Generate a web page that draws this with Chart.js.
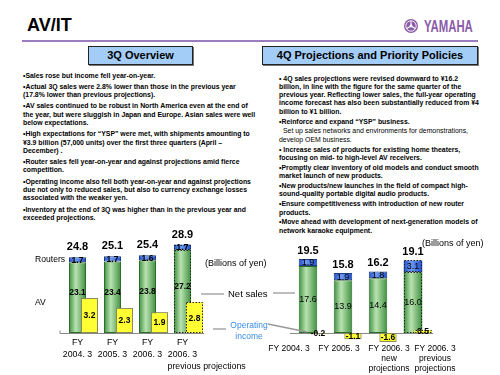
<!DOCTYPE html>
<html>
<head>
<meta charset="utf-8">
<script src="https://cdn.jsdelivr.net/npm/chart.js@4.4.1/dist/chart.umd.min.js"></script>
<style>
  html, body { margin: 0; padding: 0; background: #fff; }
  body { width: 500px; height: 375px; position: relative; overflow: hidden;
         font-family: Arial, "Liberation Sans", sans-serif; color: #000; }
  .abs { position: absolute; }
  #title { left: 27px; top: 16px; font-size: 18px; line-height: 18px; font-weight: bold; }
  #logo { left: 424px; top: 18.5px; font-size: 16px; line-height: 16px; font-weight: bold;
          color: #8a5ca8; transform: scaleX(0.71); transform-origin: left center; }
  #rule { left: 22px; top: 40px; width: 456px; height: 2px; background: #9a7cbf; }
  .box { top: 46px; height: 19px; box-sizing: border-box; border: 1px solid #222;
         background: #a3cdf7; box-shadow: 1px 1px 0 #777; text-align: center;
         font-size: 11px; line-height: 17px; font-weight: bold; }
  .txt { font-size: 6.9px; line-height: 8.3px; font-weight: bold; white-space: nowrap; }
  .txt p { margin: 0 0 3px 0; }
  #right-text p { margin-bottom: 1.6px; }
  .light { font-weight: normal; padding-left: 4px; }
  .note { font-size: 9px; line-height: 10px; white-space: nowrap; }
  .blue { color: #3a8ee6; font-size: 8.5px; line-height: 10.5px; text-align: center; }
  .chart { width: 250px; height: 150px; top: 225px; }
</style>
</head>
<body>
<div id="title" class="abs">AV/IT</div>
<svg class="abs" style="left:403px;top:18px" width="16" height="16" viewBox="0 0 16 16">
  <circle cx="8" cy="8" r="7" fill="#8a5ca8"/>
  <circle cx="8" cy="8" r="5.2" fill="none" stroke="#fff" stroke-width="0.9"/>
  <g stroke="#fff" stroke-width="1.1">
    <line x1="8" y1="8" x2="8" y2="3.2"/>
    <line x1="8" y1="8" x2="12.2" y2="10.4"/>
    <line x1="8" y1="8" x2="3.8" y2="10.4"/>
  </g>
  <circle cx="8" cy="8" r="1.4" fill="#fff"/>
</svg>
<div id="logo" class="abs">YAMAHA</div>
<div id="rule" class="abs"></div>

<div class="abs box" style="left:88px;width:105px">3Q Overview</div>
<div class="abs box" style="left:262px;width:216px">4Q Projections and Priority Policies</div>

<div id="left-text" class="abs txt" style="left:23px;top:71.5px">
  <p>•Sales rose but income fell year-on-year.</p>
  <p>•Actual 3Q sales were 2.8% lower than those in the previous year<br>(17.8% lower than previous projections).</p>
  <p>•AV sales continued to be robust in North America even at the end of<br>the year, but were sluggish in Japan and Europe. Asian sales were well<br>below expectations.</p>
  <p>•High expectations for “YSP” were met, with shipments amounting to<br>¥3.9 billion (57,000 units) over the first three quarters (April –<br>December) .</p>
  <p>•Router sales fell year-on-year and against projections amid fierce<br>competition.</p>
  <p>•Operating income also fell both year-on-year and against projections<br>due not only to reduced sales, but also to currency exchange losses<br>associated with the weaker yen.</p>
  <p>•Inventory at the end of 3Q was higher than in the previous year and<br>exceeded projections.</p>
</div>

<div id="right-text" class="abs txt" style="left:279px;top:74.5px">
  <p>• 4Q sales projections were revised downward to ¥16.2<br>billion, in line with the figure for the same quarter of the<br>previous year. Reflecting lower sales, the full-year operating<br>income forecast has also been substantially reduced from ¥4<br>billion to ¥1 billion.</p>
  <p>•Reinforce and expand “YSP” business.</p>
  <p><span class="light">Set up sales networks and environments for demonstrations,</span><br><span style="font-weight:normal">develop OEM business.</span></p>
  <p>•  Increase sales of products for existing home theaters,<br>focusing on mid- to high-level AV receivers.</p>
  <p>•Promptly clear inventory of old models and conduct smooth<br>market launch of new products.</p>
  <p>•New products/new launches in the field of compact high-<br>sound-quality portable digital audio products.</p>
  <p>•Ensure competitiveness with introduction of new router<br>products.</p>
  <p>•Move ahead with development of next-generation models of<br>network karaoke equipment.</p>
</div>

<div class="abs chart" style="left:0"><canvas id="leftChart" width="250" height="150"></canvas></div>
<div class="abs chart" style="left:250px"><canvas id="rightChart" width="250" height="150"></canvas></div>

<div class="abs note" style="left:205px;top:258px">(Billions of yen)</div>
<div class="abs note" style="left:422px;top:238px">(Billions of yen)</div>
<div class="abs note" style="left:228px;top:288.5px;font-size:9.5px">Net sales</div>
<div class="abs blue" style="left:222px;top:320px;width:54px">Operating<br>income</div>
<svg class="abs" style="left:0;top:0" width="500" height="375">
  <g stroke="#999" stroke-width="1.3" fill="none">
    <line x1="201" y1="294" x2="224" y2="294"/>
    <line x1="273" y1="293" x2="295" y2="293"/>
    <line x1="213" y1="329" x2="226" y2="329"/>
    <line x1="268" y1="324" x2="307" y2="332"/>
  </g>
</svg>

<script>
// Left chart: full year net sales and operating income (billions of yen)
const leftCategories = [
  ['FY', '2004. 3'], ['FY', '2005. 3'], ['FY', '2006. 3'],
  ['FY', '2006. 3', 'previous projections']
];
const leftAV = [23.1, 23.4, 23.8, 27.2];
const leftRouters = [1.7, 1.7, 1.6, 1.7];
const leftIncome = [3.2, 2.3, 1.9, 2.8];

// Right chart: 4Q net sales and operating income (billions of yen)
const rightCategories = [
  ['FY 2004. 3'], ['FY 2005. 3'], ['FY 2006. 3', 'new', 'projections'],
  ['FY 2006. 3', 'previous', 'projections']
];
const rightAV = [17.6, 13.9, 14.4, 16.0];
const rightRouters = [1.9, 1.9, 1.8, 3.1];
const rightIncome = [-0.2, -1.1, -1.6, 0.5];

// horizontal shading so the bars look like the rounded ones on the slide
function cylinder(dark, light) {
  return (c) => {
    const el = c.element;
    if (!el || !isFinite(el.x) || !el.width) return dark;
    const g = c.chart.ctx.createLinearGradient(el.x - el.width / 2, 0, el.x + el.width / 2, 0);
    g.addColorStop(0, dark);
    g.addColorStop(0.4, light);
    g.addColorStop(1, dark);
    return g;
  };
}
const solidUnlessLast = (c) => c.dataIndex === c.dataset.data.length - 1 ? 0 : 1;

function datasets(av, routers, income, barPct) {
  return [
    {label: 'AV', data: av, stack: 'sales', yAxisID: 'y',
     backgroundColor: cylinder('#3f8f3f', '#b9e3b1'), borderColor: '#2d6b2d',
     borderWidth: solidUnlessLast, borderSkipped: false, barPercentage: barPct[0]},
    {label: 'Routers', data: routers, stack: 'sales', yAxisID: 'y',
     backgroundColor: cylinder('#1f4fd0', '#6f9af0'), borderColor: '#1a3a8a',
     borderWidth: solidUnlessLast, borderSkipped: false, barPercentage: barPct[0]},
    {label: 'Operating income', data: income, stack: 'income', yAxisID: 'y2',
     backgroundColor: '#ffff33', borderColor: '#8a8a5a',
     borderWidth: solidUnlessLast, borderSkipped: false, barPercentage: barPct[1]}
  ];
}

function text(ctx, str, x, y, font, align) {
  ctx.font = font;
  ctx.textAlign = align || 'center';
  ctx.textBaseline = 'middle';
  ctx.fillStyle = '#000';
  ctx.fillText(str, x, y);
}

function dotted(ctx, el) {
  const top = Math.min(el.y, el.base);
  const h = Math.abs(el.base - el.y);
  ctx.save();
  ctx.setLineDash([1.5, 1.5]);
  ctx.strokeStyle = '#222';
  ctx.lineWidth = 1;
  ctx.strokeRect(Math.round(el.x - el.width / 2) + 0.5, Math.round(top) + 0.5,
                 Math.round(el.width) - 1, Math.max(1, Math.round(h) - 1));
  ctx.restore();
}

// baseline, income bars in front, dotted projection bars and all value labels
function slidePlugin(style) {
  return {
    id: 'slide',
    beforeDatasetsDraw(chart) {
      const {ctx, chartArea} = chart;
      const zero = Math.round(chart.scales.y.getPixelForValue(0)) + 0.5;
      ctx.save();
      ctx.strokeStyle = '#888';
      ctx.lineWidth = 1;
      ctx.beginPath();
      ctx.moveTo(chartArea.left - style.axisLeft, zero - style.tick);
      ctx.lineTo(chartArea.left - style.axisLeft, zero);
      ctx.lineTo(chartArea.right - style.axisRight, zero);
      ctx.stroke();
      ctx.restore();
    },
    afterDatasetsDraw(chart) {
      const {ctx, chartArea} = chart;
      const av = chart.getDatasetMeta(0).data;
      const rt = chart.getDatasetMeta(1).data;
      const inc = chart.getDatasetMeta(2).data;
      const last = av.length - 1;
      const zero = chart.scales.y.getPixelForValue(0);
      dotted(ctx, av[last]);
      dotted(ctx, rt[last]);
      ctx.save();
      inc.forEach(el => el.draw(ctx));
      ctx.restore();
      dotted(ctx, inc[last]);

      const avData = chart.data.datasets[0].data;
      const rtData = chart.data.datasets[1].data;
      const incData = chart.data.datasets[2].data;
      ctx.save();
      av.forEach((el, i) => {
        const total = (avData[i] + rtData[i]).toFixed(1);
        text(ctx, total, el.x, rt[i].y - style.totalGap, 'bold 11px Arial');
        text(ctx, avData[i].toFixed(1), el.x, (el.y + el.base) / 2 - style.avShift, style.valueFont);
        text(ctx, rtData[i].toFixed(1), el.x, (rt[i].y + rt[i].base) / 2 + 0.5, style.valueFont);
        const ie = inc[i];
        text(ctx, incData[i].toFixed(1), ie.x, (ie.y + ie.base) / 2 + 0.5, style.incomeFont);
        const lines = style.categories[i];
        lines.forEach((line, k) => {
          const shifted = style.lineShift(i, k);
          text(ctx, line, el.x + shifted.dx, zero + style.firstLine + k * style.lineGap,
               style.catFont, shifted.align);
        });
      });
      if (style.seriesNames) {
        text(ctx, 'Routers', chartArea.left - 31, (rt[0].y + rt[0].base) / 2, '8.6px Arial', 'left');
        text(ctx, 'AV', chartArea.left - 31, (av[0].y + av[0].base) / 2 + 5, '8.6px Arial', 'left');
      }
      ctx.restore();
    }
  };
}

function makeChart(id, categories, av, routers, income, layout, style) {
  const chart = new Chart(document.getElementById(id), {
    type: 'bar',
    data: {labels: categories.map(c => c.join(' ')), datasets: datasets(av, routers, income, layout.barPct)},
    options: {
      responsive: false,
      animation: false,
      events: [],
      layout: {padding: layout.padding},
      categoryPercentage: layout.catPct,
      plugins: {legend: {display: false}, tooltip: {enabled: false}},
      scales: {
        x: {display: false, stacked: true},
        y: {display: false, stacked: true, min: layout.y[0], max: layout.y[1]},
        y2: {display: false, stacked: true, min: layout.y2[0], max: layout.y2[1]}
      }
    },
    plugins: [slidePlugin(Object.assign({categories}, style))]
  });
  chart.update('none');
  return chart;
}

makeChart('leftChart', leftCategories, leftAV, leftRouters, leftIncome,
  {padding: {left: 66, right: 44, top: 15, bottom: 42}, catPct: 0.686,
   barPct: [1.42, 1.42], y: [0, 30.4], y2: [0, 8.53]},
  {totalGap: 10, avShift: 5, valueFont: 'bold 8.5px Arial', incomeFont: 'bold 8.5px Arial',
   catFont: '8.8px Arial', firstLine: 10, lineGap: 12, axisLeft: 6, axisRight: 2, tick: 3,
   seriesNames: true,
   lineShift: (i, k) => k === 2 ? {dx: -15, align: 'left'} : {dx: 0, align: 'center'}});

const rightLabelShift = [-19, -4, 11, 22];
makeChart('rightChart', rightCategories, rightAV, rightRouters, rightIncome,
  {padding: {left: 45.5, right: 64.5, top: 15, bottom: 29}, catPct: 0.571,
   barPct: [1.85, 1.7], y: [-3.42, 24.47], y2: [-2.32, 16.6]},
  {totalGap: 8, avShift: 0, valueFont: '9px Arial', incomeFont: 'bold 8.5px Arial',
   catFont: '8.5px Arial', firstLine: 16, lineGap: 10, axisLeft: 5.5, axisRight: 2.5, tick: 0,
   seriesNames: false,
   lineShift: (i, k) => ({dx: rightLabelShift[i], align: 'center'})});
</script>
</body>
</html>
